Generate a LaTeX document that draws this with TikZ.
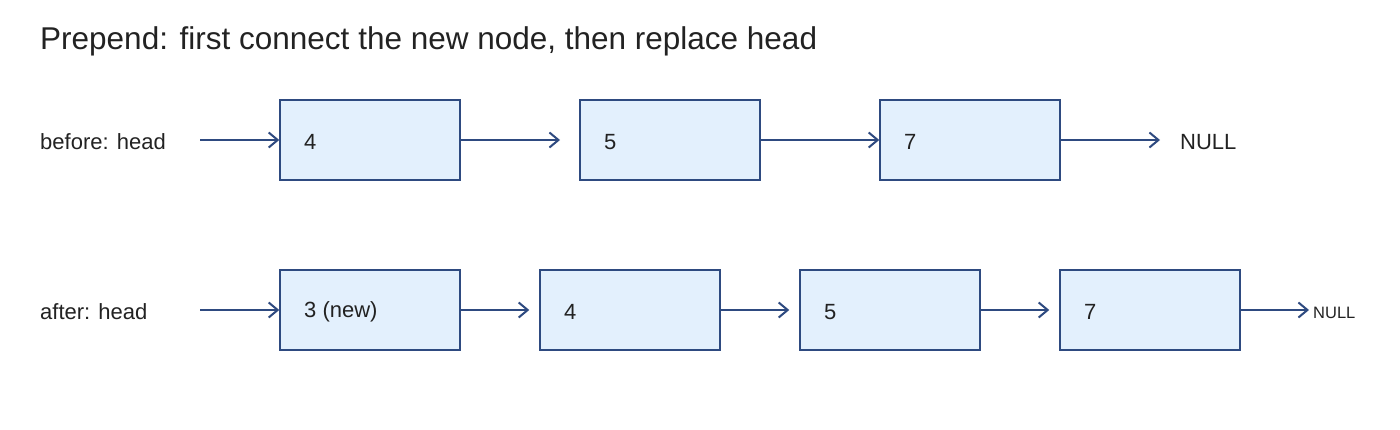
\documentclass[tikz,border=0pt]{standalone}
\usepackage{fontspec}
\setmainfont{Liberation Sans}
\usetikzlibrary{arrows.meta}
\definecolor{edge}{HTML}{2E4A80}
\definecolor{boxfill}{HTML}{E3F0FD}
\definecolor{txt}{HTML}{222222}
\begin{document}
\begin{tikzpicture}[x=1pt,y=-1pt,
  box/.style={draw=edge,fill=boxfill,line width=1.5pt,minimum width=180pt,minimum height=80pt,inner sep=0pt},
  val/.style={anchor=west,inner sep=0pt,text=txt,font=\fontsize{22}{26}\selectfont},
  lab/.style={anchor=west,inner sep=0pt,text=txt,font=\fontsize{22}{26}\selectfont},
  arr/.style={draw=edge,line width=2.2pt,-{Straight Barb[length=9pt,width=15pt,line width=2pt]}}]
\useasboundingbox (0,0) rectangle (1400,430);
\node[anchor=west,inner sep=0pt,text=txt,font=\fontsize{31.5}{36}\selectfont] (title) at (40,41) {Prepend: first connect the new node, then replace head};
% row 1
\node[lab] (h1) at (40,142) {before: head};
\coordinate (s1) at (200,140);
\node[box] (a1) at (370,140) {};
\node[box] (a2) at (670,140) {};
\node[box] (a3) at (970,140) {};
\node[val] at (304,142) {4};
\node[val] at (604,142) {5};
\node[val] at (904,142) {7};
\node[lab] (n1) at (1180,142) {NULL};
\coordinate (t1) at (560,140);
\coordinate (e1) at (1160,140);
\draw[arr] (s1) -- (a1.west);
\draw[arr] (a1.east) -- (t1);
\draw[arr] (a2.east) -- (a3.west);
\draw[arr] (a3.east) -- (e1);
% row 2
\node[lab] (h2) at (40,312) {after: head};
\coordinate (s2) at (200,310);
\node[box] (b1) at (370,310) {};
\node[box] (b2) at (630,310) {};
\node[box] (b3) at (890,310) {};
\node[box] (b4) at (1150,310) {};
\node[val] at (304,312) {3 (new)};
\node[val] at (564,312) {4};
\node[val] at (824,312) {5};
\node[val] at (1084,312) {7};
\node[anchor=west,inner sep=0pt,text=txt,font=\fontsize{16.5}{19}\selectfont] (n2) at (1313,313) {NULL};
\coordinate (e2) at (1309,310);
\draw[arr] (s2) -- (b1.west);
\draw[arr] (b1.east) -- ([xshift=-10pt]b2.west);
\draw[arr] (b2.east) -- ([xshift=-10pt]b3.west);
\draw[arr] (b3.east) -- ([xshift=-10pt]b4.west);
\draw[arr] (b4.east) -- (e2);
\end{tikzpicture}
\end{document}
